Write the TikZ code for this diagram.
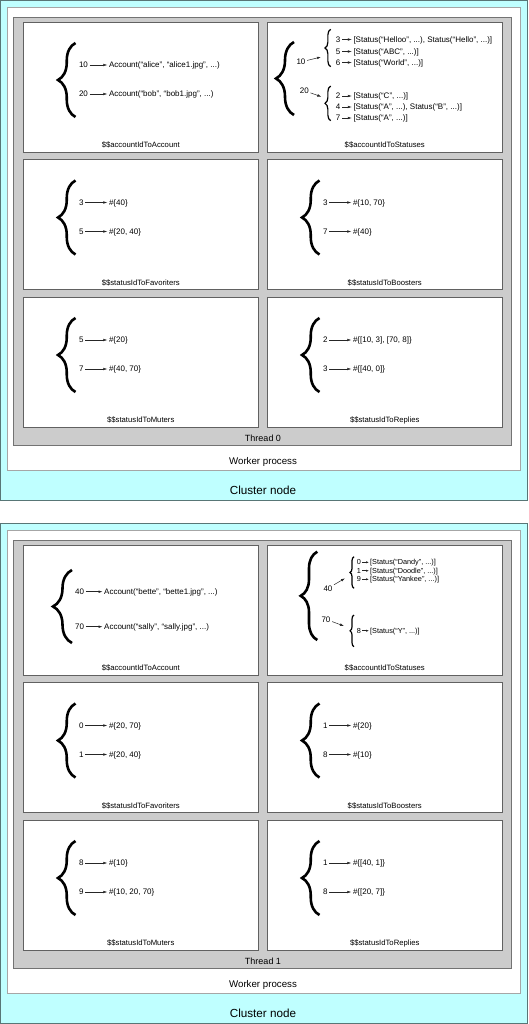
\documentclass[tikz,border=0pt]{standalone}
\usepackage{fontspec}
\setmainfont{Liberation Sans}
\usepackage{xcolor}
\usepackage{tikz}
\usetikzlibrary{calc, positioning, arrows.meta, decorations.pathreplacing}

\definecolor{clustercyan}{RGB}{191,255,255}
\definecolor{clusteredge}{RGB}{88,118,118}
\definecolor{threadgray}{RGB}{204,204,204}

\begin{document}
\begin{tikzpicture}[>={Latex[length=4pt,width=2.6pt]}, x=1pt, y=-1pt,
    panel/.style={draw=black!62, fill=white, line width=0.7pt, minimum width=235.5pt,
        minimum height=130pt, anchor=north west, inner sep=0pt, outer sep=0pt},
    maptitle/.style={font=\fontsize{7.7}{9}\selectfont, inner sep=0pt},
    mapkey/.style={anchor=west, inner sep=1.5pt, font=\fontsize{8}{9.6}\selectfont,
        text height=5.8pt, text depth=0pt},
    mapval/.style={mapkey},
    smallrow/.style={font=\fontsize{7.3}{8.8}\selectfont, text height=5.3pt, inner sep=1pt},
    link/.style={->, line width=0.5pt, black!85},
    shortlink/.style={-{Latex[length=3pt,width=2.2pt]}, line width=0.5pt, black!85},
    bigbrace/.style={decorate, decoration={brace, amplitude=#1}, line width=2.6pt},
    bigbrace/.default=17.5pt,
    smallbrace/.style={decorate, decoration={brace, amplitude=#1}, line width=1.2pt},
    smallbrace/.default=5.7pt]

    \useasboundingbox (0,0) rectangle (528,1024);

    % 1. Cluster node, worker process, thread and the six map panels
    \foreach \cy/\tn in {0/0, 523/1} {
        \draw[fill=clustercyan, draw=clusteredge, line width=1pt] (0.5,\cy+0.5) rectangle (527.5,\cy+500);
        \draw[fill=white, draw=black!35, line width=0.8pt] (7,\cy+7) rectangle (520,\cy+470);
        \draw[fill=threadgray, draw=black!55, line width=0.8pt] (13,\cy+17) rectangle (511.5,\cy+445);
        \node[font=\fontsize{9}{11}\selectfont] (thread\tn) at (263,\cy+438) {Thread \tn};
        \node[font=\fontsize{9.7}{11.5}\selectfont] (worker\tn) at (263,\cy+462) {Worker process};
        \node[font=\fontsize{11.7}{14}\selectfont] (cluster\tn) at (263,\cy+490) {Cluster node};
        \foreach \i/\col/\row/\lbl in {1/23/22/accountIdToAccount, 2/267/22/accountIdToStatuses,
                3/23/159.5/statusIdToFavoriters, 4/267/159.5/statusIdToBoosters,
                5/23/297/statusIdToMuters, 6/267/297/statusIdToReplies} {
            \node[panel] (p\tn\i) at (\col,\cy+\row) {};
            \node[maptitle] (t\tn\i) at ($(p\tn\i.south)+(0,-7)$) {\$\$\lbl};
        }
    }

    % 2. Maps with two entries
    \foreach \p/\ka/\va/\kb/\vb in {
            01/10/{Account(“alice”, “alice1.jpg”, ...)}/20/{Account(“bob”, “bob1.jpg”, ...)},
            03/3/{\#\{40\}}/5/{\#\{20, 40\}},
            04/3/{\#\{10, 70\}}/7/{\#\{40\}},
            05/5/{\#\{20\}}/7/{\#\{40, 70\}},
            06/2/{\#\{[10, 3], [70, 8]\}}/3/{\#\{[40, 0]\}},
            13/0/{\#\{20, 70\}}/1/{\#\{20, 40\}},
            14/1/{\#\{20\}}/8/{\#\{10\}},
            15/8/{\#\{10\}}/9/{\#\{10, 20, 70\}},
            16/1/{\#\{[40, 1]\}}/8/{\#\{[20, 7]\}}} {
        \node[mapkey] (ka\p) at ($(p\p.north west)+(54.3,43)$) {\ka};
        \node[mapval] (va\p) at ($(p\p.north west)+(84.3,43)$) {\va};
        \node[mapkey] (kb\p) at ($(p\p.north west)+(54.3,72)$) {\kb};
        \node[mapval] (vb\p) at ($(p\p.north west)+(84.3,72)$) {\vb};
        \draw[link] (ka\p) -- (va\p);
        \draw[link] (kb\p) -- (vb\p);
        \draw[bigbrace] ($(p\p.north west)+(52.5,95)$) -- ($(p\p.north west)+(52.5,21)$);
    }

    % accounts of thread 1 sit a little lower
    \node[mapkey] (ka11) at ($(p11.north west)+(50.5,46.7)$) {40};
    \node[mapval] (va11) at ($(p11.north west)+(79.5,46.7)$) {Account(“bette”, “bette1.jpg”, ...)};
    \node[mapkey] (kb11) at ($(p11.north west)+(50.5,81.7)$) {70};
    \node[mapval] (vb11) at ($(p11.north west)+(79.5,81.7)$) {Account(“sally”, “sally.jpg”, ...)};
    \draw[link] (ka11) -- (va11);
    \draw[link] (kb11) -- (vb11);
    \draw[bigbrace=19pt] ($(p11.north west)+(49,98)$) -- ($(p11.north west)+(49,25)$);

    % 3. Nested map of thread 0
    \draw[bigbrace=18pt] ($(p02.north west)+(27,93)$) -- ($(p02.north west)+(27,20)$);
    \node[mapkey] (ka02) at ($(p02.north west)+(27.8,40)$) {10};
    \coordinate (ea02) at ($(p02.north west)+(54,35)$);
    \draw[link] (ka02) -- (ea02);
    \draw[smallbrace] ($(p02.north west)+(63.7,44.7)$) -- ($(p02.north west)+(63.7,7.3)$);
    \foreach \k/\v/\y in {3/{[Status(“Helloo”, ...), Status(“Hello”, ...)]}/17.5,
            5/{[Status(“ABC”, ...)]}/29.5, 6/{[Status(“World”, ...)]}/40.5} {
        \node[mapkey] (ka02\k) at ($(p02.north west)+(67.2,\y)$) {\k};
        \node[mapval] (va02\k) at ($(p02.north west)+(84.8,\y)$) {\v};
        \draw[link] (ka02\k) -- (va02\k);
    }
    \node[mapkey] (kb02) at ($(p02.north west)+(31.2,68.7)$) {20};
    \coordinate (eb02) at ($(p02.north west)+(54.3,74.7)$);
    \draw[link] (kb02) -- (eb02);
    \draw[smallbrace] ($(p02.north west)+(63.7,98.7)$) -- ($(p02.north west)+(63.7,64)$);
    \foreach \k/\v/\y in {2/{[Status(“C”, ...)]}/74,
            4/{[Status(“A”, ...), Status(“B”, ...)]}/85, 7/{[Status(“A”, ...)]}/96} {
        \node[mapkey] (kb02\k) at ($(p02.north west)+(67.2,\y)$) {\k};
        \node[mapval] (vb02\k) at ($(p02.north west)+(84.8,\y)$) {\v};
        \draw[link] (kb02\k) -- (vb02\k);
    }

    % 4. Nested map of thread 1
    \draw[bigbrace=16.6pt] ($(p12.north west)+(50.3,95)$) -- ($(p12.north west)+(50.3,6.7)$);
    \node[mapkey] (ka12) at ($(p12.north west)+(54.8,43.3)$) {40};
    \coordinate (ea12) at ($(p12.north west)+(78,33.3)$);
    \draw[link] (ka12) -- (ea12);
    \draw[smallbrace=4pt] ($(p12.north west)+(87,43.3)$) -- ($(p12.north west)+(87,11.7)$);
    \foreach \k/\v/\y in {0/{[Status(“Dandy”, ...)]}/17.3,
            1/{[Status(“Doodle”, ...)]}/25.7, 9/{[Status(“Yankee”, ...)]}/34.3} {
        \node[mapkey, smallrow] (ka12\k) at ($(p12.north west)+(88.7,\y)$) {\k};
        \node[mapval, smallrow] (va12\k) at ($(p12.north west)+(102,\y)$) {\v};
        \draw[shortlink] (ka12\k) -- (va12\k);
    }
    \node[mapkey] (kb12) at ($(p12.north west)+(52.8,74.3)$) {70};
    \coordinate (eb12) at ($(p12.north west)+(77,81)$);
    \draw[link] (kb12) -- (eb12);
    \draw[smallbrace=4pt] ($(p12.north west)+(87,101.7)$) -- ($(p12.north west)+(87,70)$);
    \node[mapkey, smallrow] (kb128) at ($(p12.north west)+(88.7,85.7)$) {8};
    \node[mapval, smallrow] (vb128) at ($(p12.north west)+(102,85.7)$) {[Status(“Y”, ...)]};
    \draw[shortlink] (kb128) -- (vb128);

\end{tikzpicture}
\end{document}
